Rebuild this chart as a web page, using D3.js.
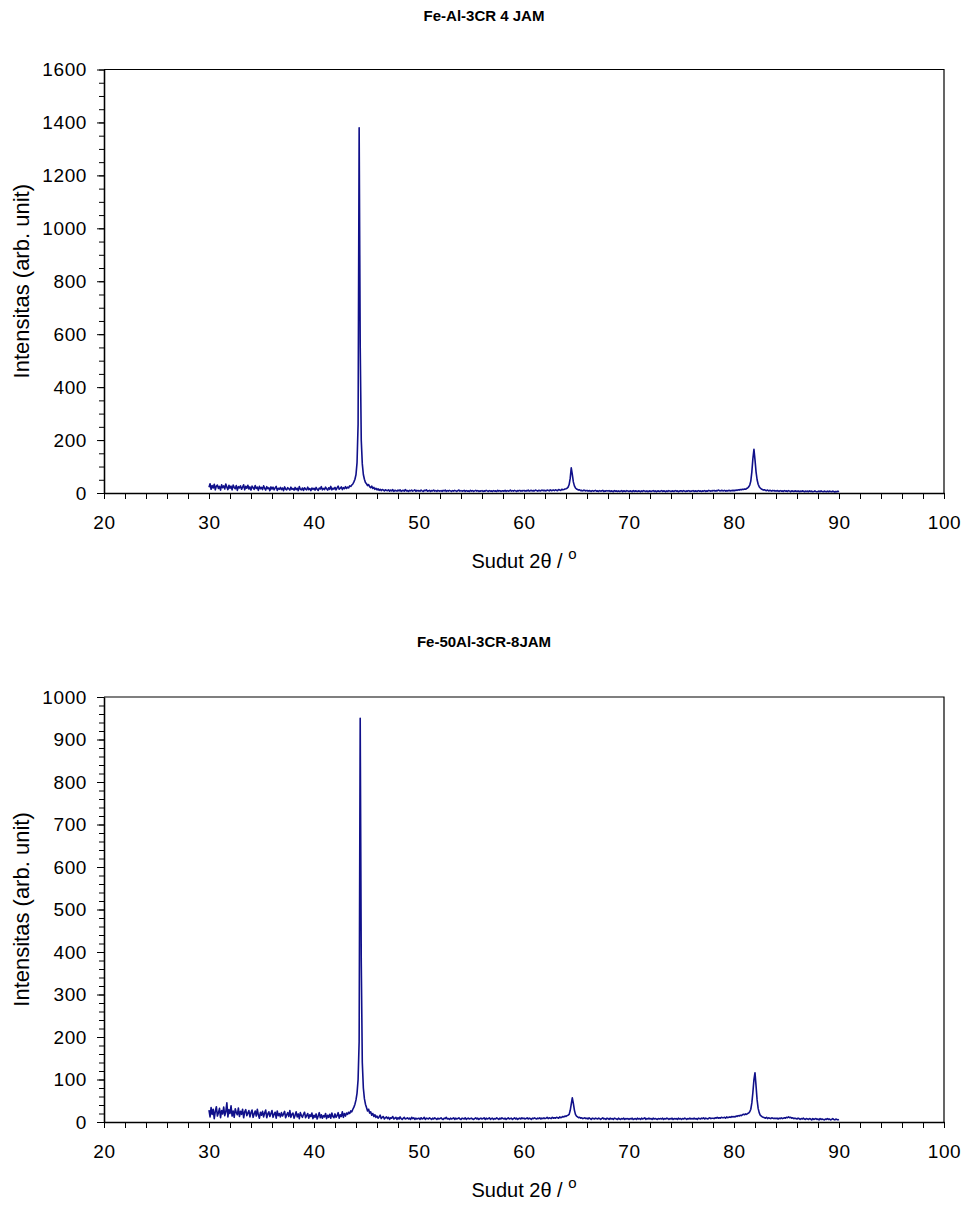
<!DOCTYPE html>
<html>
<head>
<meta charset="utf-8">
<script src="https://cdn.jsdelivr.net/npm/d3@7"></script>
<style>
  body { margin: 0; background: #fff; }
  svg { display: block; font-family: "Liberation Sans", Arial, sans-serif; }
</style>
</head>
<body>
<svg id="chart" width="967" height="1205"></svg>
<script>
// XRD scans, 2theta from 30 to 90 deg, step 0.1 deg (one row per degree)
const scanStart = 30, scanStep = 0.1;

const intensity4jam = [
  22, 35, 14, 28, 19, 33, 12, 26, 30, 17,
  25, 11, 31, 20, 27, 15, 34, 22, 13, 29,
  18, 26, 12, 30, 21, 16, 28, 10, 24, 19,
  27, 14, 22, 31, 12, 25, 18, 29, 15, 23,
  11, 26, 20, 14, 28, 17, 22, 10, 25, 16,
  21, 13, 27, 18, 11, 24, 16, 20, 9, 23,
  15, 22, 12, 19, 25, 10, 18, 14, 21, 13,
  19, 9, 23, 15, 12, 20, 16, 11, 22, 14,
  17, 11, 21, 13, 18, 9, 24, 14, 12, 19,
  10, 20, 15, 12, 22, 13, 17, 9, 19, 14,
  18, 11, 21, 14, 10, 19, 15, 24, 12, 17,
  13, 22, 16, 11, 20, 14, 25, 12, 18, 15,
  21, 12, 19, 26, 14, 18, 23, 13, 20, 16,
  24, 17, 22, 19, 27, 25, 30, 34, 42, 52,
  70, 115, 260, 1380, 560, 200, 110, 70, 52, 40,
  35, 28, 32, 24, 20, 26, 17, 21, 14, 18,
  12, 16, 10, 14, 9, 13, 11, 8, 12, 10,
  9, 12, 7, 11, 8, 13, 6, 10, 9, 7,
  11, 8, 12, 6, 9, 10, 7, 13, 8, 9,
  6, 10, 8, 11, 7, 9, 12, 6, 10, 8,
  9, 7, 11, 8, 6, 10, 9, 12, 7, 8,
  10, 6, 9, 8, 11, 7, 9, 6, 10, 8,
  7, 9, 6, 10, 8, 11, 6, 9, 7, 10,
  8, 6, 9, 7, 10, 8, 6, 9, 11, 7,
  9, 7, 8, 10, 6, 9, 7, 8, 6, 10,
  7, 9, 6, 8, 10, 7, 9, 6, 8, 7,
  9, 6, 8, 7, 10, 8, 6, 9, 7, 8,
  6, 9, 7, 8, 6, 10, 7, 9, 6, 8,
  8, 7, 10, 6, 9, 7, 8, 11, 7, 9,
  7, 10, 8, 6, 9, 8, 10, 7, 9, 8,
  10, 7, 9, 8, 11, 7, 9, 10, 8, 9,
  8, 11, 9, 7, 10, 9, 8, 11, 9, 10,
  9, 8, 11, 10, 8, 12, 9, 10, 11, 9,
  12, 10, 9, 13, 11, 10, 14, 12, 13, 15,
  16, 18, 22, 32, 55, 95, 70, 42, 27, 19,
  15, 13, 11, 12, 9, 10, 8, 11, 9, 8,
  10, 7, 9, 8, 6, 9, 7, 8, 10, 7,
  8, 6, 9, 7, 8, 10, 6, 8, 7, 9,
  7, 9, 6, 8, 7, 5, 9, 7, 8, 6,
  8, 6, 7, 9, 5, 8, 7, 6, 9, 7,
  6, 8, 7, 5, 9, 6, 8, 7, 6, 8,
  7, 5, 8, 6, 9, 7, 6, 8, 5, 7,
  8, 6, 7, 9, 6, 8, 5, 7, 8, 6,
  7, 9, 6, 8, 7, 5, 8, 6, 9, 7,
  6, 8, 7, 6, 9, 7, 8, 5, 7, 8,
  8, 6, 9, 7, 6, 8, 7, 9, 6, 7,
  7, 9, 6, 8, 7, 6, 9, 7, 8, 6,
  8, 7, 9, 6, 8, 7, 10, 8, 7, 9,
  8, 10, 7, 9, 8, 11, 9, 8, 10, 9,
  8, 10, 7, 9, 8, 10, 9, 8, 10, 9,
  10, 9, 11, 10, 12, 11, 13, 12, 14, 13,
  15, 14, 17, 19, 23, 30, 45, 80, 130, 165,
  125, 80, 50, 33, 24, 19, 15, 13, 11, 12,
  10, 9, 11, 8, 10, 9, 7, 10, 8, 9,
  7, 9, 8, 6, 9, 7, 8, 6, 9, 7,
  8, 6, 9, 7, 5, 8, 7, 6, 8, 7,
  6, 8, 5, 7, 6, 8, 7, 5, 7, 6,
  7, 5, 8, 6, 7, 5, 6, 8, 6, 5,
  6, 7, 5, 8, 6, 5, 7, 6, 5, 7,
  5, 7, 6, 5, 7, 6, 4, 6, 5, 7,
  5
];

const intensity8jam = [
  28, 12, 34, 18, 30, 8, 25, 36, 14, 22,
  32, 10, 27, 19, 35, 15, 24, 45, 12, 29,
  20, 38, 14, 26, 11, 31, 22, 17, 33, 13,
  25, 18, 30, 10, 24, 29, 15, 21, 27, 12,
  22, 28, 11, 19, 26, 14, 30, 17, 9, 23,
  16, 25, 12, 21, 28, 10, 19, 24, 13, 20,
  27, 11, 18, 23, 9, 26, 15, 20, 12, 22,
  14, 19, 25, 10, 17, 22, 13, 27, 11, 18,
  21, 9, 16, 24, 12, 19, 8, 22, 15, 11,
  18, 23, 10, 15, 20, 9, 17, 13, 21, 8,
  16, 11, 19, 7, 14, 22, 10, 17, 9, 15,
  12, 20, 8, 16, 11, 18, 9, 21, 13, 10,
  19, 11, 15, 22, 9, 17, 13, 24, 11, 20,
  14, 21, 18, 23, 20, 26, 24, 30, 35, 42,
  52, 68, 100, 190, 950, 380, 140, 80, 55, 42,
  34, 26, 30, 21, 24, 16, 20, 13, 17, 11,
  14, 9, 12, 16, 8, 11, 13, 7, 10, 12,
  8, 11, 6, 10, 9, 13, 7, 9, 11, 6,
  10, 7, 12, 8, 6, 9, 11, 7, 8, 10,
  7, 9, 6, 11, 8, 10, 6, 9, 7, 8,
  9, 6, 10, 7, 8, 11, 6, 9, 8, 7,
  10, 8, 6, 9, 7, 10, 8, 6, 9, 7,
  8, 10, 7, 6, 9, 8, 11, 7, 8, 6,
  9, 7, 8, 10, 6, 9, 7, 8, 10, 7,
  6, 9, 8, 7, 10, 6, 8, 9, 7, 8,
  9, 7, 6, 8, 10, 7, 9, 6, 8, 9,
  7, 8, 10, 6, 9, 7, 8, 10, 6, 8,
  9, 6, 8, 7, 10, 8, 6, 9, 7, 10,
  8, 7, 9, 6, 8, 10, 7, 8, 9, 6,
  8, 10, 7, 9, 6, 8, 9, 7, 10, 8,
  9, 7, 8, 10, 7, 9, 8, 6, 9, 8,
  10, 8, 7, 9, 8, 10, 7, 9, 8, 10,
  8, 9, 11, 8, 10, 9, 8, 11, 9, 10,
  9, 11, 10, 9, 12, 10, 11, 13, 12, 14,
  13, 15, 16, 18, 27, 42, 57, 44, 28, 18,
  14, 12, 10, 11, 9, 10, 8, 9, 10, 8,
  9, 7, 10, 8, 6, 9, 8, 7, 9, 8,
  7, 9, 8, 6, 8, 10, 7, 8, 6, 9,
  8, 6, 9, 7, 8, 6, 9, 8, 7, 6,
  9, 7, 6, 8, 7, 9, 6, 8, 7, 8,
  6, 8, 7, 9, 6, 7, 8, 6, 9, 7,
  8, 6, 9, 7, 8, 10, 6, 8, 7, 9,
  7, 8, 6, 9, 7, 8, 7, 6, 8, 7,
  8, 7, 9, 6, 8, 7, 9, 8, 6, 8,
  7, 9, 6, 8, 7, 8, 6, 9, 7, 8,
  6, 8, 7, 9, 8, 6, 8, 7, 9, 7,
  8, 7, 9, 7, 8, 6, 9, 8, 7, 9,
  8, 10, 7, 9, 8, 7, 9, 10, 8, 9,
  9, 8, 10, 9, 11, 9, 10, 9, 11, 10,
  10, 11, 9, 12, 10, 11, 12, 11, 13, 12,
  13, 12, 14, 13, 15, 14, 16, 15, 17, 18,
  17, 19, 18, 20, 21, 24, 30, 45, 70, 100,
  116, 85, 52, 32, 22, 16, 14, 12, 11, 10,
  9, 11, 8, 10, 9, 8, 10, 9, 8, 9,
  8, 9, 7, 9, 8, 10, 8, 9, 10, 9,
  11, 10, 12, 10, 11, 9, 10, 8, 9, 8,
  7, 9, 8, 6, 8, 7, 9, 7, 6, 8,
  7, 6, 8, 7, 5, 8, 6, 7, 8, 6,
  7, 5, 8, 6, 7, 6, 5, 7, 6, 8,
  6, 7, 5, 6, 8, 6, 5, 7, 6, 5,
  6
];

const chartTitles = ["Fe-Al-3CR 4 JAM", "Fe-50Al-3CR-8JAM"];
const xTicks = [20, 30, 40, 50, 60, 70, 80, 90, 100];
const yTicks4jam = [0, 200, 400, 600, 800, 1000, 1200, 1400, 1600];
const yTicks8jam = [0, 100, 200, 300, 400, 500, 600, 700, 800, 900, 1000];

const lineColor = "#10108a";
const svg = d3.select("#chart");
svg.append("rect").attr("width", 967).attr("height", 1205).attr("fill", "#fff");

const x = d3.scaleLinear().domain([xTicks[0], xTicks[xTicks.length - 1]]).range([104, 944]);

const panels = [
  { title: chartTitles[0], values: intensity4jam, yTicks: yTicks4jam, minorStep: 50, top: 69.5, bottom: 493, titleY: 21 },
  { title: chartTitles[1], values: intensity8jam, yTicks: yTicks8jam, minorStep: 20, top: 697, bottom: 1122, titleY: 647 }
];

panels.forEach(p => {
  const yMax = p.yTicks[p.yTicks.length - 1];
  const y = d3.scaleLinear().domain([0, yMax]).range([p.bottom, p.top]);
  const g = svg.append("g");

  // frame top + right
  g.append("path")
    .attr("d", `M${x.range()[0]},${y(yMax)}H${x.range()[1]}V${y(0)}`)
    .attr("fill", "none").attr("stroke", "#000").attr("stroke-width", 1.2);

  // data
  const line = d3.line()
    .x((d, i) => x(scanStart + i * scanStep))
    .y(d => y(d));
  g.append("path")
    .datum(p.values)
    .attr("d", line)
    .attr("fill", "none")
    .attr("stroke", lineColor)
    .attr("stroke-width", 1.6)
    .attr("stroke-linejoin", "round");

  // x axis, minor every 2
  const xAxis = g.append("g")
    .attr("transform", `translate(0,${y(0)})`)
    .call(d3.axisBottom(x)
      .tickValues(d3.range(xTicks[0], xTicks[xTicks.length - 1] + 1, 2))
      .tickFormat(d => xTicks.includes(d) ? d : "")
      .tickSize(6).tickSizeOuter(0).tickPadding(17));

  // y axis minor + major
  const yMinor = g.append("g")
    .attr("transform", `translate(${x.range()[0]},0)`)
    .call(d3.axisLeft(y).tickValues(d3.range(0, yMax + 1, p.minorStep))
      .tickFormat("").tickSize(5).tickSizeOuter(0));
  const yAxis = g.append("g")
    .attr("transform", `translate(${x.range()[0]},0)`)
    .call(d3.axisLeft(y).tickValues(p.yTicks).tickFormat(d3.format("d"))
      .tickSize(7).tickSizeOuter(0).tickPadding(10));

  [xAxis, yMinor, yAxis].forEach(a => {
    a.select(".domain").attr("stroke", "#000").attr("stroke-width", 1.3);
    a.selectAll("line").attr("stroke", "#000");
    a.selectAll("text")
      .attr("font-family", '"Liberation Sans", Arial, sans-serif')
      .attr("font-size", 19).attr("letter-spacing", 0.6).attr("fill", "#000");
  });

  // title
  svg.append("text")
    .attr("x", 484).attr("y", p.titleY)
    .attr("text-anchor", "middle")
    .attr("font-size", 15).attr("font-weight", "bold")
    .text(p.title);

  // x label
  const xl = svg.append("text")
    .attr("x", (x.range()[0] + x.range()[1]) / 2).attr("y", y(0) + 75)
    .attr("text-anchor", "middle")
    .attr("font-size", 20);
  xl.append("tspan").text("Sudut 2θ / ");
  xl.append("tspan").attr("dy", -9).attr("font-size", 15).text("o");

  // y label
  svg.append("text")
    .attr("transform", `translate(29,${(p.top + p.bottom) / 2}) rotate(-90)`)
    .attr("text-anchor", "middle")
    .attr("font-size", 22)
    .text("Intensitas (arb. unit)");
});
</script>
</body>
</html>
